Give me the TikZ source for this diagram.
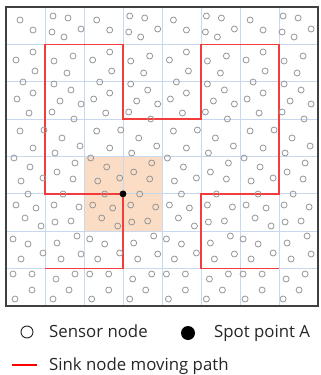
\documentclass[tikz,border=0pt]{standalone}
\usepackage{fontspec}
\setmainfont{Open Sans}
\definecolor{gridc}{RGB}{200,216,238}
\definecolor{framec}{RGB}{64,64,64}
\definecolor{pathc}{RGB}{245,60,60}
\definecolor{shadec}{RGB}{250,221,196}
\definecolor{sensc}{RGB}{150,150,150}
\definecolor{txtc}{RGB}{38,38,38}
\tikzset{
  gridline/.style={draw=gridc, line width=0.8pt},
  framebox/.style={draw=framec, line width=1.8pt},
  movepath/.style={draw=pathc, line width=1.5pt},
  sensor/.style={draw=sensc, line width=0.8pt},
  legtext/.style={text=txtc, font=\fontsize{16.8}{18}\selectfont, anchor=base west, inner sep=0pt},
}
\begin{document}
\begin{tikzpicture}[x=1pt,y=-1pt]
\useasboundingbox (0,0) rectangle (321,375);
% grid coordinates
\def\gx#1{6+39*#1}
\def\gy#1{7+37.375*#1}
% shade
\fill[shadec] ({\gx{2}},{\gy{4}}) rectangle ({\gx{4}},{\gy{6}});
% grid
\foreach \i in {1,...,7}{
  \draw[gridline] ({\gx{\i}},{\gy{0}}) -- ({\gx{\i}},{\gy{8}});
  \draw[gridline] ({\gx{0}},{\gy{\i}}) -- ({\gx{8}},{\gy{\i}});
}
% path coordinates
\coordinate (p1) at ({\gx{1}},{\gy{7}});
\coordinate (p2) at ({\gx{3}},{\gy{7}});
\coordinate (p3) at ({\gx{3}},{\gy{5}});
\coordinate (p4) at ({\gx{1}},{\gy{5}});
\coordinate (p5) at ({\gx{1}},{\gy{1}});
\coordinate (p6) at ({\gx{3}},{\gy{1}});
\coordinate (p7) at ({\gx{3}},{\gy{3}});
\coordinate (p8) at ({\gx{5}},{\gy{3}});
\coordinate (p9) at ({\gx{5}},{\gy{1}});
\coordinate (p10) at ({\gx{7}},{\gy{1}});
\coordinate (p11) at ({\gx{7}},{\gy{5}});
\coordinate (p12) at ({\gx{5}},{\gy{5}});
\coordinate (p13) at ({\gx{5}},{\gy{7}});
\coordinate (p14) at ({\gx{7}},{\gy{7}});
\draw[movepath, line join=miter] (p1) -- (p2) -- (p3) -- (p4) -- (p5) -- (p6) -- (p7) -- (p8) -- (p9) -- (p10) -- (p11) -- (p12) -- (p13) -- (p14);
% sensors
\foreach \k in {0,1,2,3}{
  \foreach \x/\y in {
    20/20,33/30,53/16,68/18,52/32,64/37,81/29,
    16/60,33/52,35/71,54/61,73/56,67/73,
    23/82,17/99,33/93,29/113,54/84,71/90,60/101,81/104,52/112,74/119,
    20/131,44/130,62/138,33/148,55/153,80/146,14/158,
    30/167,21/181,43/178,57/172,75/163,73/179,
    28/194,63/194,16/205,36/208,25/218,54/205,79/207,55/222,71/221,41/226,
    77/236,13/239,28/244,21/259,43/253,57/243,61/259,81/254,
    13/274,32/274,32/290,15/299,56/279,75/274,69/290,53/299}{
    \draw[sensor] ({\x+76.7*\k},\y) circle[radius=3.0];
  }
}
% spot point
\fill[black] (p3) circle[radius=3.4];
\node[inner sep=0pt] (spotA) at (p3) {};
% frame
\draw[framebox] ({\gx{0}},{\gy{0}}) rectangle ({\gx{8}},{\gy{8}});
% legend
\node[draw=txtc, line width=0.9pt, circle, minimum size=12pt, inner sep=0pt] (legS) at (27,332) {};
\node[legtext] (legSt) at (49,337.5) {Sensor node};
\node[fill=black, circle, minimum size=14pt, inner sep=0pt] (legA) at (188,333) {};
\node[legtext] (legAt) at (214,337.5) {Spot point A};
\coordinate (legL1) at (12,365);
\coordinate (legL2) at (37,365);
\draw[draw=red, line width=2.6pt] (legL1) -- (legL2);
\node[legtext] (legLt) at (49,370) {Sink node moving path};
\end{tikzpicture}
\end{document}
